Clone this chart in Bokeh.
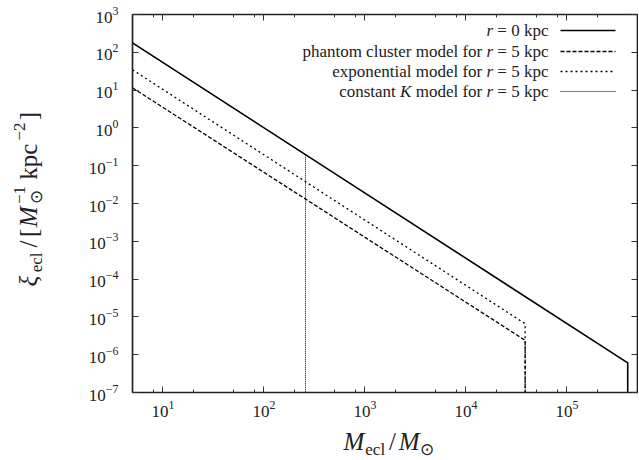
import math
from bokeh.plotting import figure
from bokeh.layouts import row, column
from bokeh.models import Range1d, FixedTicker, LogAxis, Label, Arrow
from bokeh.embed import file_html
from bokeh.resources import INLINE

# ---- data ----
m_r0 = [5.0, 4.0e5, 4.0e5]
xi_r0 = [178.0, 6.1e-7, 1e-9]
m_phantom = [5.0, 3.86e4, 3.86e4]
xi_phantom = [11.5, 2.4e-6, 1e-9]
m_exp = [5.0, 3.86e4, 3.86e4]
xi_exp = [34.4, 6.6e-6, 1e-9]
m_constK = [5.0, 258.0, 258.0]
xi_constK = [178.0, 0.196, 1e-9]

# legend entries as (text, italic) tokens separated by spaces
legend_labels = [
    [("r", True), ("= 0 kpc", False)],
    [("phantom cluster model for", False), ("r", True), ("= 5 kpc", False)],
    [("exponential model for", False), ("r", True), ("= 5 kpc", False)],
    [("constant", False), ("K", True), ("model for", False), ("r", True), ("= 5 kpc", False)],
]

x_major = [1e1, 1e2, 1e3, 1e4, 1e5]
x_minor = [m * 10 ** k for k in range(0, 6) for m in (2, 5, 8) if 5 <= m * 10 ** k <= 5e5]
y_major = [10.0 ** k for k in range(-7, 4)]

FONT = "Liberation Serif"
TXT = "#222222"

# approximate advance widths (em) for Liberation Serif
W = dict(a=.444, b=.5, c=.444, d=.5, e=.444, f=.333, g=.5, h=.5, i=.278, j=.278, k=.5, l=.278,
         m=.778, n=.5, o=.5, p=.5, q=.5, r=.333, s=.389, t=.278, u=.5, v=.5, w=.722, x=.5,
         y=.5, z=.444)
W.update({" ": .25, "=": .564, "/": .278, "[": .333, "]": .333, "−": .564, "⊙": .84, "ξ": .47})
for dgt in "0123456789":
    W[dgt] = .5
WI = {"r": .389, "K": .667, "M": .833, "ξ": .5}

def width(txt, size, italic=False):
    tot = 0.0
    for ch in txt:
        tot += (WI.get(ch, W.get(ch, .5)) if italic else W.get(ch, .5))
    return tot * size

def add_text(fig, x, y, txt, size, italic=False, align="left", angle=0.0):
    fig.add_layout(Label(x=x, y=y, x_units="screen", y_units="screen", text=txt,
                         text_align=align, text_baseline="middle", angle=angle,
                         text_font=FONT, text_font_size=f"{size}px",
                         text_font_style="italic" if italic else "normal", text_color=TXT))

# ================= main plot =================
H = 460
LEFT_W = 60
FRAME_L = 132
MAIN_BOTTOM = 33
p = figure(x_axis_type="log", y_axis_type="log",
           x_range=Range1d(5, 5e5), y_range=Range1d(1e-7, 1e3),
           frame_width=505, frame_height=378,
           min_border_left=FRAME_L - LEFT_W, min_border_top=14, min_border_bottom=MAIN_BOTTOM,
           min_border_right=1, output_backend="svg", toolbar_location=None)
p.grid.visible = False
p.outline_line_color = "black"
p.outline_line_width = 1.2

def style_axis(ax, ticks, minor, labels=True):
    ax.ticker = FixedTicker(ticks=ticks, minor_ticks=minor)
    ax.major_tick_in = 6
    ax.major_tick_out = 0
    ax.minor_tick_in = 3
    ax.minor_tick_out = 0
    ax.axis_line_color = "#222222"
    ax.axis_line_width = 1.5
    ax.major_tick_line_color = "#333333"
    ax.minor_tick_line_color = "#333333"
    ax.major_label_text_font = FONT
    ax.major_label_text_font_size = "17px"
    ax.major_label_text_color = TXT
    if not labels:
        ax.major_label_text_font_size = "1px"
        ax.major_label_text_alpha = 0.0
        ax.major_label_standoff = 0

style_axis(p.xaxis[0], x_major, x_minor)
style_axis(p.yaxis[0], y_major, [])
p.xaxis[0].major_label_standoff = 8
p.yaxis[0].major_label_standoff = 14

top = LogAxis()
style_axis(top, x_major, x_minor, labels=False)
p.add_layout(top, "above")
right = LogAxis()
style_axis(right, y_major, [], labels=False)
p.add_layout(right, "right")

p.line(m_r0, xi_r0, line_color="black", line_width=1.6)
p.line(m_constK, xi_constK, line_color="black", line_width=1.0, line_dash="1 1")
p.line(m_phantom, xi_phantom, line_color="black", line_width=1.3, line_dash="4 2")
p.line(m_exp, xi_exp, line_color="black", line_width=1.3, line_dash="2 3")

# legend: text right-aligned, line sample on the right
LS = 17
styles = [dict(line_color="black", line_width=1.6, line_dash="solid"),
          dict(line_color="black", line_width=1.3, line_dash="4 2"),
          dict(line_color="black", line_width=1.3, line_dash="2 3"),
          dict(line_color="black", line_width=1.0, line_dash="1 1")]
row_y = [362, 341, 321, 301]
for frags, st, yy in zip(legend_labels, styles, row_y):
    xr = 416
    for txt, it in reversed(frags):
        add_text(p, xr, yy, txt, LS, italic=it, align="right")
        xr -= width(txt, LS, it) + width(" ", LS)
    p.add_layout(Arrow(x_start=428, y_start=yy, x_end=483, y_end=yy,
                       start_units="screen", end_units="screen", end=None, **st))

def blank_fig(w, h):
    f = figure(width=w, height=h, min_border=0, x_axis_location=None, y_axis_location=None,
               x_range=Range1d(0, 1), y_range=Range1d(0, 1),
               output_backend="svg", toolbar_location=None)
    f.grid.visible = False
    f.outline_line_color = None
    return f

SLASH_PAD = lambda sz: (0.5 - 0.278) / 2 * sz   # centre the narrow slash in a wider slot

# ================= y axis label panel =================
left = blank_fig(LEFT_W, H)
S, s = 25, 17
rot = math.pi / 2
base_x = 35                      # baseline position of main text
mid = lambda bx, sz: bx - 0.3 * sz
sub_x, sup_x = base_x + 6, base_x - 11
ylab = [("ξ", S, True, "n"), ("ecl", s, False, "sub"), ("/", S, False, "n"), ("[", S, False, "n"),
        ("M", S, True, "n"), (("⊙", "−1"), s, False, "stack"), ("kpc", S, False, "n"),
        ("−2", s, False, "sup"), ("]", S, False, "n")]
adv = []
for txt, sz, it, kind in ylab:
    if kind == "stack":
        adv.append(max(width(txt[0], sz), width(txt[1], sz)) + 5)
    elif txt == "/":
        adv.append(0.5 * sz)
    else:
        adv.append(width(txt, sz, it) + 1)
total = sum(adv)
k = 176.0 / total
ypos = H - 286.0
for (txt, sz, it, kind), a in zip(ylab, adv):
    if kind == "stack":
        add_text(left, mid(sub_x, sz), ypos, txt[0], sz, angle=rot)
        add_text(left, mid(sup_x, sz), ypos, txt[1], sz, angle=rot)
    else:
        bx = {"n": base_x, "sub": sub_x, "sup": sup_x}[kind]
        pad = SLASH_PAD(sz) if txt == "/" else 0.0
        add_text(left, mid(bx, sz), ypos + pad, txt, sz, italic=it, angle=rot)
    ypos += a * k

# ================= x axis label panel =================
BOT_H = H - (14 + 378 + MAIN_BOTTOM)
bottom = blank_fig(505, BOT_H)
base_y = H - 448.0               # baseline, in panel coords
xlab = [("M", S, True, 0), ("ecl", s, False, -6), ("/", S, False, 0), ("M", S, True, 0), ("⊙", s, False, -6)]
xx = 343 - FRAME_L               # panel frame is aligned with the main frame
for txt, sz, it, dy in xlab:
    pad = SLASH_PAD(sz) if txt == "/" else 0.0
    add_text(bottom, xx + pad, base_y + dy + 0.3 * sz, txt, sz, italic=it)
    xx += (0.5 * sz if txt == "/" else width(txt, sz, it) + 1)

layout = row(left, column(p, bottom))
open("out.html", "w").write(file_html(layout, INLINE))
